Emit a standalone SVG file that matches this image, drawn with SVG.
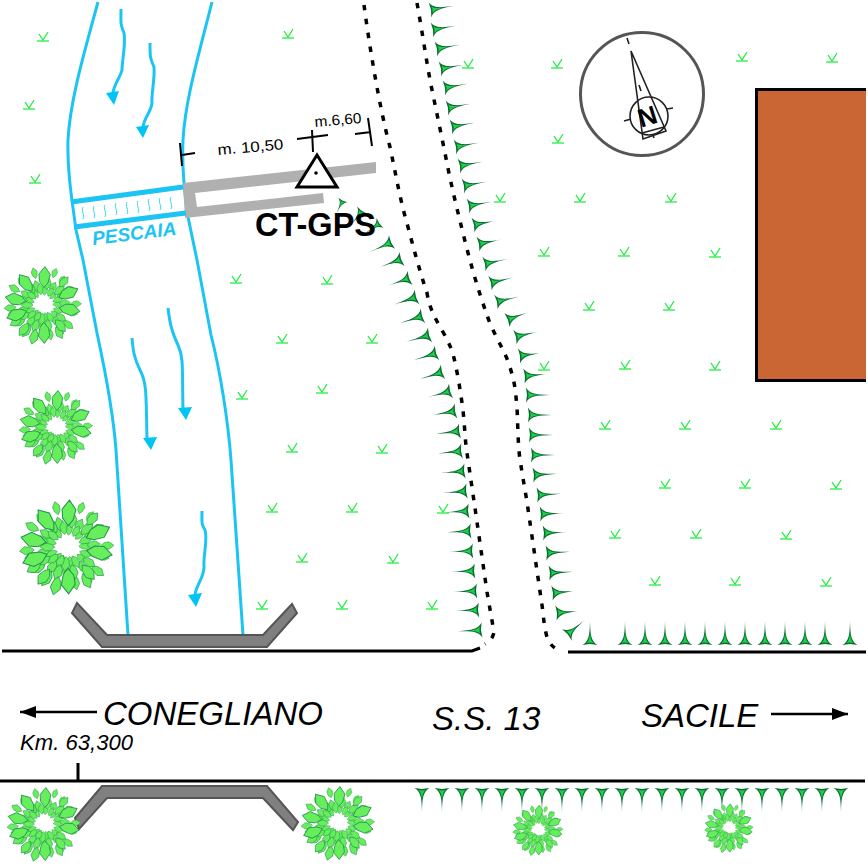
<svg xmlns="http://www.w3.org/2000/svg" width="868" height="866" viewBox="0 0 868 866">
<style>
text{font-family:"Liberation Sans",Arial,sans-serif;fill:#000}
.bank{fill:none;stroke:#1cc4f4;stroke-width:3}
.flow{fill:none;stroke:#1cc4f4;stroke-width:3}
.head{fill:#00c4f4}
.dash{fill:none;stroke:#000;stroke-width:3.500;stroke-dasharray:5.500 8.500}
.road{fill:none;stroke:#000;stroke-width:3}
.dim{fill:none;stroke:#000;stroke-width:2}
.weir{fill:#808080;stroke:#555;stroke-width:2}
.big{font-size:33px;font-style:italic}
.thin{fill:none;stroke:#222;stroke-width:1.600}
</style>
<defs>
<g id="s"><path d="M24,0C10,-.4 4,-.9 0,-7.500L1,0L0,7.500C4,.9 10,.4 24,0Z" fill="#0a6e32"/><path d="M12,0C7,-.5 4,-1 2,-3.500L2.600,0L2,3.500C4,1 7,.5 12,0Z" fill="#1ed04a"/></g>
<g id="g" fill="none" stroke="#22ee44" stroke-width="1.300"><path d="M-6,0H6"/><path d="M-4,-7L0,-1L5,-9"/></g>
<path id="l" d="M0,-11L6,-3L4,6L0,11L-5,5L-6,-3Z" fill="#66ee5c" stroke="#22924a" stroke-width=".9"/>
<g id="t0">
<use href="#l" transform="rotate(350) translate(0,-16) scale(.5)"/><use href="#l" transform="rotate(30) translate(0,-15) scale(.45)"/><use href="#l" transform="rotate(70) translate(0,-16) scale(.5)"/><use href="#l" transform="rotate(110) translate(0,-16) scale(.45)"/><use href="#l" transform="rotate(150) translate(0,-14) scale(.5)"/><use href="#l" transform="rotate(185) translate(0,-14) scale(.55)"/><use href="#l" transform="rotate(205) translate(0,-13) scale(.5)"/><use href="#l" transform="rotate(230) translate(0,-15) scale(.5)"/><use href="#l" transform="rotate(270) translate(0,-16) scale(.55)"/><use href="#l" transform="rotate(310) translate(0,-15) scale(.5)"/>
<use href="#l" transform="rotate(12) translate(0,-22) scale(.55)"/><use href="#l" transform="rotate(48) translate(0,-22) scale(.6)"/><use href="#l" transform="rotate(85) translate(0,-22) scale(.5)"/><use href="#l" transform="rotate(125) translate(0,-22) scale(.55)"/><use href="#l" transform="rotate(165) translate(0,-21) scale(.55)"/><use href="#l" transform="rotate(200) translate(0,-22) scale(.6)"/><use href="#l" transform="rotate(240) translate(0,-22) scale(.55)"/><use href="#l" transform="rotate(285) translate(0,-22) scale(.55)"/><use href="#l" transform="rotate(325) translate(0,-21) scale(.6)"/>
<use href="#l" transform="rotate(20) translate(0,-34) scale(.45)"/><use href="#l" transform="rotate(42) translate(0,-31) scale(.6)"/><use href="#l" transform="rotate(88) translate(0,-33) scale(.5)"/><use href="#l" transform="rotate(128) translate(0,-32) scale(.55)"/><use href="#l" transform="rotate(150) translate(0,-32) scale(.6)"/><use href="#l" transform="rotate(196) translate(0,-33) scale(.7)"/><use href="#l" transform="rotate(218) translate(0,-31) scale(.7)"/><use href="#l" transform="rotate(238) translate(0,-32) scale(.6)"/><use href="#l" transform="rotate(265) translate(0,-33) scale(.55)"/><use href="#l" transform="rotate(300) translate(0,-33) scale(.55)"/><use href="#l" transform="rotate(345) translate(0,-33) scale(.5)"/>
</g>
<g id="tree">
<use href="#t0" transform="rotate(17) scale(.93)"/>
<use href="#t0"/>
<use href="#l" transform="rotate(3) translate(0,-28) scale(.95)"/><use href="#l" transform="rotate(65) translate(0,-28) scale(.95)"/><use href="#l" transform="rotate(100) translate(0,-27) scale(.95)"/><use href="#l" transform="rotate(140) translate(0,-27) scale(.7)"/><use href="#l" transform="rotate(178) translate(0,-28) scale(.95)"/><use href="#l" transform="rotate(250) translate(0,-28) scale(.95)"/><use href="#l" transform="rotate(282) translate(0,-28) scale(.95)"/><use href="#l" transform="rotate(322) translate(0,-28) scale(.95)"/>
</g>
<path id="w" d="M0,0c-2.500,4 2.500,8 0,12" fill="none" stroke="#30d8f0" stroke-width="1"/>
<marker id="ah" viewBox="0 0 16 12" refX="16" refY="6" markerWidth="16" markerHeight="12" markerUnits="userSpaceOnUse" orient="auto"><path d="M0,0L16,6L0,12Z" fill="#000"/></marker>
</defs>

<g id="grass">
<use href="#g" x="43" y="41"/><use href="#g" x="288" y="38"/><use href="#g" x="29" y="109"/><use href="#g" x="35" y="183"/>
<use href="#g" x="468" y="68"/><use href="#g" x="557" y="68"/><use href="#g" x="742" y="61"/><use href="#g" x="832" y="62"/><use href="#g" x="558" y="143"/><use href="#g" x="500" y="202"/>
<use href="#g" x="580" y="202"/><use href="#g" x="671" y="202"/><use href="#g" x="544" y="256"/><use href="#g" x="624" y="256"/><use href="#g" x="715" y="257"/><use href="#g" x="589" y="310"/><use href="#g" x="669" y="310"/><use href="#g" x="544" y="370"/><use href="#g" x="625" y="369"/><use href="#g" x="715" y="370"/>
<use href="#g" x="605" y="429"/><use href="#g" x="685" y="429"/><use href="#g" x="776" y="429"/><use href="#g" x="665" y="488"/><use href="#g" x="745" y="488"/><use href="#g" x="836" y="489"/><use href="#g" x="615" y="538"/><use href="#g" x="696" y="538"/><use href="#g" x="786" y="539"/><use href="#g" x="655" y="585"/><use href="#g" x="735" y="585"/><use href="#g" x="826" y="586"/>
<use href="#g" x="236" y="283"/><use href="#g" x="327" y="284"/><use href="#g" x="282" y="343"/><use href="#g" x="372" y="343"/><use href="#g" x="242" y="399"/><use href="#g" x="322" y="393"/><use href="#g" x="292" y="452"/><use href="#g" x="382" y="453"/><use href="#g" x="272" y="512"/><use href="#g" x="352" y="512"/><use href="#g" x="443" y="513"/><use href="#g" x="302" y="562"/><use href="#g" x="393" y="563"/><use href="#g" x="262" y="609"/><use href="#g" x="342" y="609"/><use href="#g" x="432" y="609"/>
</g>

<g id="building"><path d="M866,89H756V381H866Z" fill="#c96633"/><path d="M866,89.500H756.500V380.500H866" fill="none" stroke="#000" stroke-width="3"/></g>

<g id="river">
<path class="bank" d="M98,2C85,50 70,100 68,140C67,170 72,200 76,230L83,260L97,333C105,370 113,410 116,450L128,635"/>
<path class="bank" d="M212,2C200,50 185,100 183,140C182,165 183,185 188,217L197,260L211,335C220,370 228,420 231,460L243,635"/>
<path class="flow" d="M121,9C121,22 120,24 124,33C126,45 122,60 122,70C120,78 114,84 113,93"/>
<path class="head" d="M106,93L119,91L114,105Z"/>
<path class="flow" d="M150,43C150,57 150,58 154,67C155,80 151,95 152,103C151,112 144,118 143,127"/>
<path class="head" d="M136,127L149,125L143,138Z"/>
<path class="flow" d="M132,338C133,350 134,358 140,370C147,383 146,395 147,440"/>
<path class="head" d="M143,438L157,437L151,450Z"/>
<path class="flow" d="M168,308C170,325 172,332 178,345C184,358 182,370 183,410"/>
<path class="head" d="M178,408L192,407L186,420Z"/>
<path class="flow" d="M202,511C202,522 201,524 205,530C208,540 203,555 204,567C204,578 196,585 195,595"/>
<path class="head" d="M188,595L202,593L196,607Z"/>
</g>

<g id="pescaia">
<path d="M183,183L376,162V173L195,193L197,207L323,193L324,203L185,218Z" fill="#b0b0b0"/>
<path d="M71,202L183,187" fill="none" stroke="#1cc4f4" stroke-width="5"/>
<path d="M74,227L186,213" fill="none" stroke="#1cc4f4" stroke-width="5"/>
<use href="#w" x="83" y="207"/><use href="#w" x="94" y="206"/><use href="#w" x="105" y="205"/><use href="#w" x="116" y="203"/><use href="#w" x="127" y="202"/><use href="#w" x="138" y="201"/><use href="#w" x="149" y="199"/><use href="#w" x="160" y="198"/><use href="#w" x="171" y="197"/>
<text transform="translate(93,245) rotate(-7)" font-size="19" font-style="italic" font-weight="bold" style="fill:#1cc4f4">PESCAIA</text>
</g>

<g id="dimensions">
<path class="dim" d="M180,143L182,166M182,155L195,153M312,130L313,152M297,139L328,135M368,118L372,146M355,134L371,132"/>
<text transform="translate(218,155) rotate(-5)" font-size="15" textLength="66" lengthAdjust="spacingAndGlyphs">m. 10,50</text>
<text transform="translate(315,127) rotate(-5)" font-size="15" textLength="47" lengthAdjust="spacingAndGlyphs">m.6,60</text>
</g>

<g id="embankments">
<path class="dash" d="M364,5C370,50 380,110 390,147C396,175 400,200 408,227C414,250 420,272 427,293C430,310 435,318 443,332C450,345 452,350 454,358C458,375 461,395 463,410C465,430 465,440 467,453L475,508L487,592L494,632C493,638 490,641 485,644"/>
<path class="dash" d="M417,3C422,30 427,65 431,85L445,153C450,180 456,205 463,233C470,262 478,290 487,315C490,325 498,340 504,352C508,360 511,370 513,378C516,390 516,400 517,407C518,430 518,445 520,460L527,502L535,557L543,612C544,625 546,635 548,640C551,645 554,648 558,650"/>
<path class="road" d="M2,651H472L480,648M568,652H866M0,781H865M78,763V781"/>
<g id="spikes-right">
<use href="#s" transform="translate(430,10) rotate(-10)"/><use href="#s" transform="translate(432,30) rotate(-10)"/><use href="#s" transform="translate(436,49) rotate(-10)"/><use href="#s" transform="translate(440,69) rotate(-10)"/><use href="#s" transform="translate(444,88) rotate(-10)"/><use href="#s" transform="translate(447,108) rotate(-10)"/><use href="#s" transform="translate(451,127) rotate(-10)"/><use href="#s" transform="translate(455,147) rotate(-10)"/><use href="#s" transform="translate(459,166) rotate(-10)"/><use href="#s" transform="translate(463,186) rotate(-10)"/><use href="#s" transform="translate(468,206) rotate(-10)"/><use href="#s" transform="translate(473,225) rotate(-11)"/><use href="#s" transform="translate(478,244) rotate(-11)"/><use href="#s" transform="translate(484,264) rotate(-12)"/><use href="#s" transform="translate(490,283) rotate(-13)"/><use href="#s" transform="translate(496,302) rotate(-13)"/><use href="#s" transform="translate(507,320) rotate(-20)"/><use href="#s" transform="translate(515,337) rotate(-13)"/><use href="#s" transform="translate(519,356) rotate(-8)"/><use href="#s" transform="translate(524,376) rotate(-5)"/><use href="#s" transform="translate(526,395) rotate(0)"/><use href="#s" transform="translate(528,415) rotate(0)"/><use href="#s" transform="translate(529,435) rotate(0)"/><use href="#s" transform="translate(531,455) rotate(0)"/><use href="#s" transform="translate(533,475) rotate(-3)"/><use href="#s" transform="translate(537,495) rotate(-3)"/><use href="#s" transform="translate(540,514) rotate(-2)"/><use href="#s" transform="translate(543,533) rotate(-2)"/><use href="#s" transform="translate(546,553) rotate(-3)"/><use href="#s" transform="translate(549,573) rotate(-3)"/><use href="#s" transform="translate(552,593) rotate(-5)"/><use href="#s" transform="translate(556,613) rotate(-5)"/><use href="#s" transform="translate(567,635) rotate(-40)"/>
</g>
<g id="spikes-left">
<use href="#s" transform="translate(343,200) rotate(116) scale(.7)"/><use href="#s" transform="translate(362,210) rotate(125) scale(.8)"/><use href="#s" transform="translate(380,223) rotate(145) scale(.8)"/><use href="#s" transform="translate(392,242) rotate(156)"/><use href="#s" transform="translate(402,259) rotate(160)"/><use href="#s" transform="translate(410,278) rotate(161)"/><use href="#s" transform="translate(417,297) rotate(162)"/><use href="#s" transform="translate(423,316) rotate(163)"/><use href="#s" transform="translate(430,335) rotate(164)"/><use href="#s" transform="translate(437,353) rotate(163)"/><use href="#s" transform="translate(443,372) rotate(163)"/><use href="#s" transform="translate(451,391) rotate(165)"/><use href="#s" transform="translate(456,411) rotate(170)"/><use href="#s" transform="translate(460,431) rotate(173)"/><use href="#s" transform="translate(462,451) rotate(174)"/><use href="#s" transform="translate(465,471) rotate(175)"/><use href="#s" transform="translate(467,491) rotate(175)"/><use href="#s" transform="translate(469,511) rotate(177)"/><use href="#s" transform="translate(471,531) rotate(177)"/><use href="#s" transform="translate(473,551) rotate(178)"/><use href="#s" transform="translate(475,571) rotate(178)"/><use href="#s" transform="translate(477,591) rotate(178)"/><use href="#s" transform="translate(479,610) rotate(178)"/><use href="#s" transform="translate(482,630) rotate(177)"/>
</g>
<g id="spikes-road">
<use href="#s" transform="translate(590,645) rotate(-90)"/><use href="#s" transform="translate(625,645) rotate(-90)"/><use href="#s" transform="translate(645,645) rotate(-90)"/><use href="#s" transform="translate(665,645) rotate(-90)"/><use href="#s" transform="translate(685,645) rotate(-90)"/><use href="#s" transform="translate(705,645) rotate(-90)"/><use href="#s" transform="translate(725,645) rotate(-90)"/><use href="#s" transform="translate(745,645) rotate(-90)"/><use href="#s" transform="translate(765,645) rotate(-90)"/><use href="#s" transform="translate(785,645) rotate(-90)"/><use href="#s" transform="translate(805,645) rotate(-90)"/><use href="#s" transform="translate(825,645) rotate(-90)"/><use href="#s" transform="translate(850,645) rotate(-90)"/>
<use href="#s" transform="translate(422,788) rotate(90)"/><use href="#s" transform="translate(442,788) rotate(90)"/><use href="#s" transform="translate(462,788) rotate(90)"/><use href="#s" transform="translate(482,788) rotate(90)"/><use href="#s" transform="translate(502,788) rotate(90)"/><use href="#s" transform="translate(522,788) rotate(90)"/><use href="#s" transform="translate(542,788) rotate(90)"/><use href="#s" transform="translate(562,788) rotate(90)"/><use href="#s" transform="translate(582,788) rotate(90)"/><use href="#s" transform="translate(602,788) rotate(90)"/><use href="#s" transform="translate(622,788) rotate(90)"/><use href="#s" transform="translate(642,788) rotate(90)"/><use href="#s" transform="translate(662,788) rotate(90)"/><use href="#s" transform="translate(682,788) rotate(90)"/><use href="#s" transform="translate(702,788) rotate(90)"/><use href="#s" transform="translate(722,788) rotate(90)"/><use href="#s" transform="translate(742,788) rotate(90)"/><use href="#s" transform="translate(762,788) rotate(90)"/><use href="#s" transform="translate(782,788) rotate(90)"/><use href="#s" transform="translate(802,788) rotate(90)"/><use href="#s" transform="translate(822,788) rotate(90)"/><use href="#s" transform="translate(841,788) rotate(90)"/>
</g>
</g>

<g id="ct-gps">
<path d="M317,155L297,187H337Z" fill="#fff" stroke="#000" stroke-width="3"/>
<circle cx="316" cy="173" r="1.800" fill="#000"/>
<text x="255" y="236" font-size="32.500" font-weight="bold">CT-GPS</text>
</g>

<g id="weirs">
<path class="weir" d="M77,603L72,613L102,647H267L297,613L292,604L263,635H107Z"/>
<path class="weir" d="M102,786H267L298,822L293,830L263,798H107L79,829L75,818Z"/>
</g>

<g id="trees">
<use href="#tree" transform="translate(43,305)"/>
<use href="#tree" transform="translate(56,427) scale(.95)"/>
<use href="#tree" transform="translate(67,547) scale(1.22)"/>
<use href="#tree" transform="translate(44,824) scale(.95)"/>
<use href="#tree" transform="translate(338,823) scale(.95)"/>
<use href="#tree" transform="translate(538,830) scale(.65)"/>
<use href="#tree" transform="translate(729,828) scale(.63)"/>
</g>

<g id="compass">
<circle cx="642" cy="94" r="61.500" fill="#fff" stroke="#555" stroke-width="3"/>
<circle cx="649" cy="116" r="19" class="thin"/>
<path class="thin" d="M631,51L643,139L666,131ZM642,133L664,127M627,38L629,44M639,85L641,91M653,135L654,138M624,121L631,119M667,109L673,108"/>
<text transform="translate(650,125) rotate(-17)" font-size="26" font-weight="bold" text-anchor="middle">N</text>
</g>

<g id="labels">
<path d="M97,712H20" fill="none" stroke="#000" stroke-width="2.500" marker-end="url(#ah)"/>
<path d="M771,714H848" fill="none" stroke="#000" stroke-width="2.500" marker-end="url(#ah)"/>
<text class="big" x="103" y="725">CONEGLIANO</text>
<text class="big" x="432" y="730">S.S. 13</text>
<text class="big" x="641" y="727">SACILE</text>
<text x="20" y="750" font-size="22" font-style="italic" textLength="113" lengthAdjust="spacingAndGlyphs">Km. 63,300</text>
</g>
</svg>
